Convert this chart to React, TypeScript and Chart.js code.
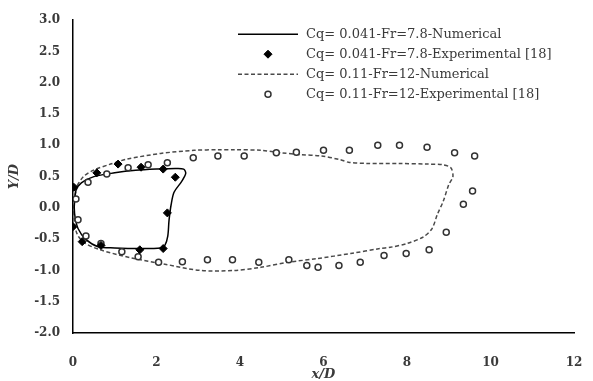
import React, { useEffect, useRef } from "react";
import { Chart, registerables } from "chart.js";

Chart.register(...registerables);

// Axis ticks
const xTickValues = [0, 2, 4, 6, 8, 10, 12];
const yTickValues = [-2.0, -1.5, -1.0, -0.5, 0.0, 0.5, 1.0, 1.5, 2.0, 2.5, 3.0];

// Series labels
const seriesLabels = [
  "Cq= 0.041-Fr=7.8-Numerical",
  "Cq= 0.041-Fr=7.8-Experimental [18]",
  "Cq= 0.11-Fr=12-Numerical",
  "Cq= 0.11-Fr=12-Experimental [18]",
];

// Cq=0.041 numerical (closed contour)
const num041X = [0.04, 0.07, 0.2, 0.5, 1.0, 1.5, 2.0, 2.45, 2.65, 2.7, 2.6, 2.42, 2.35, 2.3, 2.27, 2.2, 2.1, 1.6, 1.0, 0.6, 0.3, 0.12, 0.05, 0.03, 0.04];
const num041Y = [0.12, 0.28, 0.4, 0.5, 0.56, 0.6, 0.62, 0.63, 0.62, 0.55, 0.42, 0.25, 0.05, -0.2, -0.45, -0.6, -0.64, -0.65, -0.64, -0.62, -0.5, -0.33, -0.15, 0.0, 0.12];

// Cq=0.041 experimental
const exp041X = [0.02, 0.57, 1.08, 1.63, 2.16, 2.45, 2.26, 2.16, 1.6, 0.67, 0.22, 0.0];
const exp041Y = [0.33, 0.56, 0.7, 0.65, 0.62, 0.49, -0.08, -0.65, -0.67, -0.6, -0.54, -0.3];

// Cq=0.11 numerical (closed contour)
const num011X = [0.1, 0.25, 0.48, 0.9, 1.3, 2.1, 2.9, 3.5, 3.85, 4.5, 5.0, 5.45, 5.95, 6.4, 6.6, 7.05, 7.8, 8.5, 8.85, 9.05, 9.1, 9.0, 8.87, 8.73, 8.6, 8.4, 8.0, 7.6, 7.35, 6.65, 5.85, 5.15, 4.5, 3.85, 3.05, 2.2, 1.4, 0.65, 0.28, 0.1, 0.03, 0.03, 0.1];
const num011Y = [0.36, 0.5, 0.6, 0.7, 0.78, 0.87, 0.92, 0.93, 0.93, 0.92, 0.88, 0.85, 0.83, 0.77, 0.73, 0.71, 0.71, 0.7, 0.69, 0.64, 0.5, 0.37, 0.11, -0.1, -0.33, -0.46, -0.57, -0.63, -0.65, -0.73, -0.81, -0.87, -0.95, -1.0, -1.0, -0.9, -0.8, -0.67, -0.56, -0.42, -0.2, 0.1, 0.36];

// Cq=0.11 experimental
const exp011X = [0.07, 0.36, 0.81, 1.32, 1.8, 2.26, 2.88, 3.47, 4.1, 4.87, 5.35, 6.0, 6.62, 7.3, 7.82, 8.48, 9.14, 9.62, 9.57, 9.35, 8.94, 8.53, 7.98, 7.45, 6.88, 6.37, 5.87, 5.6, 5.17, 4.45, 3.82, 3.22, 2.62, 2.05, 1.56, 1.17, 0.67, 0.31, 0.12];
const exp011Y = [0.14, 0.41, 0.54, 0.64, 0.69, 0.72, 0.8, 0.83, 0.83, 0.88, 0.89, 0.92, 0.92, 1.0, 1.0, 0.97, 0.88, 0.83, 0.27, 0.06, -0.39, -0.67, -0.73, -0.76, -0.87, -0.92, -0.95, -0.92, -0.83, -0.87, -0.83, -0.83, -0.86, -0.87, -0.78, -0.7, -0.57, -0.45, -0.19];

const toPts = (xs: number[], ys: number[]) => xs.map((x, i) => ({ x, y: ys[i] }));

const SERIF = "'DejaVu Serif', 'Liberation Serif', serif";
const TEXT_COLOR = "#3a3a3a";

const legendPlugin = {
  id: "customLegend",
  afterDatasetsDraw(chart: any) {
    const ctx: CanvasRenderingContext2D = chart.ctx;
    const { left, top } = chart.chartArea;
    const x0 = left + 165;
    const lineW = 60;
    const textX = x0 + 68;
    chart.data.datasets.forEach((ds: any, i: number) => {
      const y = top + 14 + i * 20;
      ctx.save();
      if (ds.showLine) {
        ctx.beginPath();
        ctx.strokeStyle = ds.borderColor;
        ctx.lineWidth = ds.borderWidth;
        ctx.setLineDash(ds.borderDash || []);
        ctx.moveTo(x0, y);
        ctx.lineTo(x0 + lineW, y);
        ctx.stroke();
      } else {
        const cx = x0 + lineW / 2;
        const r = ds.pointRadius;
        ctx.setLineDash([]);
        ctx.beginPath();
        if (ds.pointStyle === "rectRot") {
          ctx.moveTo(cx, y - r);
          ctx.lineTo(cx + r, y);
          ctx.lineTo(cx, y + r);
          ctx.lineTo(cx - r, y);
          ctx.closePath();
        } else {
          ctx.arc(cx, y, r, 0, Math.PI * 2);
        }
        ctx.fillStyle = ds.pointBackgroundColor;
        ctx.fill();
        ctx.lineWidth = ds.pointBorderWidth;
        ctx.strokeStyle = ds.pointBorderColor;
        ctx.stroke();
      }
      ctx.fillStyle = TEXT_COLOR;
      ctx.font = `13px ${SERIF}`;
      ctx.textAlign = "left";
      ctx.textBaseline = "middle";
      ctx.fillText(ds.label, textX, y);
      ctx.restore();
    });
  },
};

export default function App() {
  const canvasRef = useRef<HTMLCanvasElement | null>(null);

  useEffect(() => {
    if (!canvasRef.current) return;
    const chart = new Chart(canvasRef.current, {
      type: "scatter",
      data: {
        datasets: [
          {
            label: seriesLabels[0],
            data: toPts(num041X, num041Y),
            showLine: true,
            borderColor: "#000000",
            borderWidth: 1.5,
            pointRadius: 0,
            tension: 0.3,
            order: 3,
          } as any,
          {
            label: seriesLabels[1],
            data: toPts(exp041X, exp041Y),
            showLine: false,
            pointStyle: "rectRot",
            pointRadius: 4,
            pointBackgroundColor: "#000000",
            pointBorderColor: "#000000",
            pointBorderWidth: 1,
            order: 0,
          } as any,
          {
            label: seriesLabels[2],
            data: toPts(num011X, num011Y),
            showLine: true,
            borderColor: "#4a4a4a",
            borderWidth: 1.5,
            borderDash: [4, 2.5],
            pointRadius: 0,
            tension: 0.3,
            order: 4,
          } as any,
          {
            label: seriesLabels[3],
            data: toPts(exp011X, exp011Y),
            showLine: false,
            pointStyle: "circle",
            pointRadius: 3,
            pointBackgroundColor: "#ffffff",
            pointBorderColor: "#333333",
            pointBorderWidth: 1.5,
            order: 1,
          } as any,
        ],
      },
      options: {
        animation: false,
        responsive: true,
        maintainAspectRatio: false,
        layout: { padding: { top: 20, right: 19, bottom: 0, left: 0 } },
        plugins: {
          legend: { display: false },
          tooltip: { enabled: false },
        },
        scales: {
          x: {
            type: "linear",
            min: 0,
            max: 12,
            afterBuildTicks: (axis: any) => {
              axis.ticks = xTickValues.map((v) => ({ value: v }));
            },
            afterFit: (axis: any) => {
              axis.height = 48;
            },
            grid: { display: false, drawTicks: true, tickLength: 20 },
            border: { display: true, color: "#000000", width: 1.5 },
            ticks: {
              padding: 3,
              color: TEXT_COLOR,
              font: { family: SERIF, size: 12, weight: "bold" },
              maxRotation: 0,
              callback: (v: any) => String(v),
            },
            title: {
              display: true,
              text: "x/D",
              color: TEXT_COLOR,
              font: { family: SERIF, size: 13, weight: "bold", style: "italic", lineHeight: 1 },
              padding: { top: 0, bottom: 0 },
            },
          },
          y: {
            type: "linear",
            min: -2,
            max: 3,
            afterBuildTicks: (axis: any) => {
              axis.ticks = yTickValues.map((v) => ({ value: v }));
            },
            afterFit: (axis: any) => {
              axis.width = 73;
            },
            grid: { display: false, drawTicks: false },
            border: { display: true, color: "#000000", width: 1.5 },
            ticks: {
              padding: 13,
              color: TEXT_COLOR,
              font: { family: SERIF, size: 12, weight: "bold" },
              callback: (v: any) => Number(v).toFixed(1),
            },
            title: {
              display: true,
              text: "Y/D",
              color: TEXT_COLOR,
              font: { family: SERIF, size: 13, weight: "bold", style: "italic", lineHeight: 1 },
              padding: { top: 8, bottom: 0 },
            },
          },
        },
      },
      plugins: [legendPlugin],
    });
    return () => chart.destroy();
  }, []);

  return (
    <div style={{ position: "absolute", left: 0, top: 0, width: 593, height: 381, background: "#ffffff" }}>
      <canvas ref={canvasRef} />
    </div>
  );
}
